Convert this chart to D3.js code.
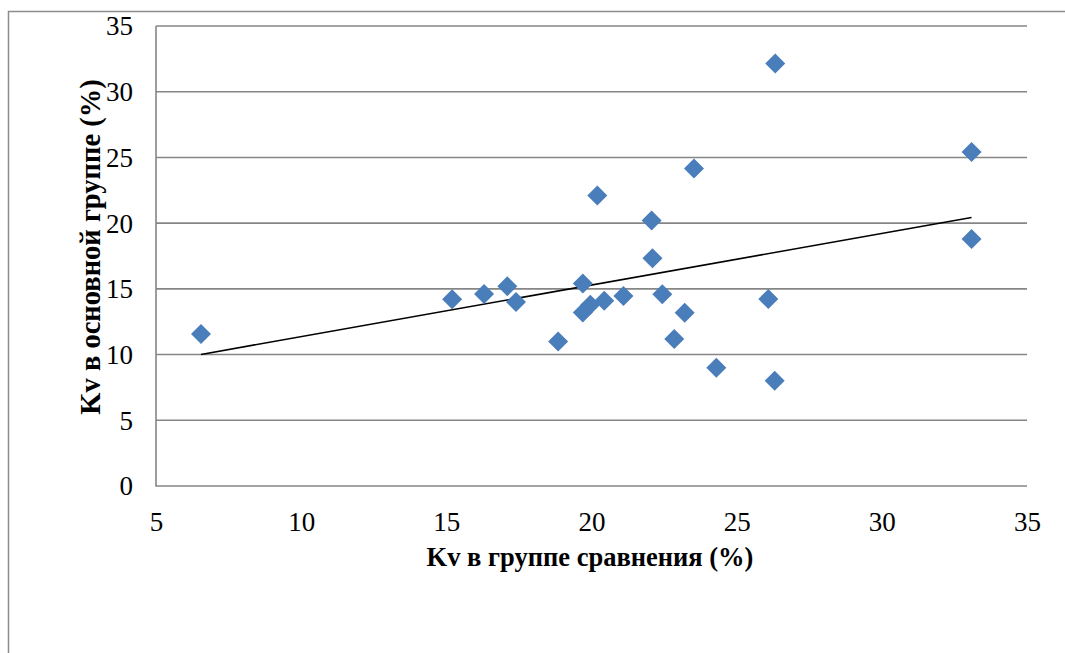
<!DOCTYPE html>
<html>
<head>
<meta charset="utf-8">
<script src="https://cdn.jsdelivr.net/npm/d3@7"></script>
<style>
  html, body { margin: 0; padding: 0; background: #fff; }
  svg { display: block; }
</style>
</head>
<body>
<svg id="chart" width="1065" height="653"></svg>
<script>
// Coefficient of variation: comparison group (x) vs main group (y), %
const kvComparison = [6.55, 15.2, 16.3, 17.1, 17.4, 18.85, 19.7, 19.7, 19.96, 20.44, 20.2, 21.1,
  22.07, 22.1, 22.44, 22.85, 23.21, 23.53, 24.3, 26.33, 26.09, 26.31, 33.09, 33.09];
const kvMain = [11.57, 14.2, 14.6, 15.2, 14.0, 11.0, 15.4, 13.2, 13.8, 14.1, 22.1, 14.46,
  20.2, 17.33, 14.59, 11.19, 13.19, 24.15, 9.0, 32.14, 14.23, 8.01, 25.42, 18.8];
const xTicks = [5, 10, 15, 20, 25, 30, 35];
const yTicks = [0, 5, 10, 15, 20, 25, 30, 35];
const xTitle = "Kv в группе сравнения (%)";
const yTitle = "Kv в основной группе (%)";

const svg = d3.select("#chart");
const font = "'Liberation Serif', 'Times New Roman', serif";

const plot = { left: 156, right: 1027, top: 26, bottom: 486 };
const x = d3.scaleLinear().domain([5, 35]).range([plot.left, plot.right]);
const y = d3.scaleLinear().domain([0, 35]).range([plot.bottom, plot.top]);

// chart frame (top and left edges)
svg.append("path")
  .attr("d", "M8.5,653 V11.5 H1065")
  .attr("fill", "none").attr("stroke", "#8c8c8c").attr("stroke-width", 1.5);

// horizontal gridlines
svg.append("g").selectAll("line").data(yTicks.filter(d => d > 0)).join("line")
  .attr("x1", plot.left).attr("x2", plot.right)
  .attr("y1", d => y(d)).attr("y2", d => y(d))
  .attr("stroke", "#868686").attr("stroke-width", 1.6);

// axis lines
svg.append("path")
  .attr("d", `M${plot.left},${plot.top} V${plot.bottom} H${plot.right}`)
  .attr("fill", "none").attr("stroke", "#868686").attr("stroke-width", 1.6);

// tick labels
const xAxis = d3.axisBottom(x).tickValues(xTicks).tickSize(0).tickPadding(0);
const gx = svg.append("g").attr("transform", `translate(0,${plot.bottom})`).call(xAxis);
gx.select(".domain").remove();
gx.selectAll("text").attr("dy", null).attr("y", 45)
  .attr("font-family", font).attr("font-size", 27).attr("fill", "#000");

const yAxis = d3.axisLeft(y).tickValues(yTicks).tickSize(0).tickPadding(0);
const gy = svg.append("g").attr("transform", `translate(${plot.left},0)`).call(yAxis);
gy.select(".domain").remove();
gy.selectAll("text").attr("x", -23).attr("dy", "0.33em")
  .attr("font-family", font).attr("font-size", 27).attr("fill", "#000");

// linear trend (least squares)
const n = kvComparison.length;
const mx = d3.mean(kvComparison), my = d3.mean(kvMain);
let sxy = 0, sxx = 0;
for (let i = 0; i < n; i++) {
  sxy += (kvComparison[i] - mx) * (kvMain[i] - my);
  sxx += (kvComparison[i] - mx) ** 2;
}
const slope = sxy / sxx, intercept = my - slope * mx;
const [xmin, xmax] = d3.extent(kvComparison);
svg.append("line")
  .attr("x1", x(xmin)).attr("y1", y(intercept + slope * xmin))
  .attr("x2", x(xmax)).attr("y2", y(intercept + slope * xmax))
  .attr("stroke", "#000").attr("stroke-width", 1.6);

// points
const diamond = d3.symbol().type(d3.symbolSquare).size(200);
svg.append("g").selectAll("path").data(kvComparison.map((v, i) => [v, kvMain[i]])).join("path")
  .attr("d", diamond)
  .attr("transform", d => `translate(${x(d[0])},${y(d[1])}) rotate(45)`)
  .attr("fill", "#4a7ebb");

// axis titles
svg.append("text")
  .attr("x", 590).attr("y", 566).attr("text-anchor", "middle")
  .attr("font-family", font).attr("font-size", 26.5).attr("font-weight", "bold")
  .text(xTitle);

svg.append("text")
  .attr("transform", "translate(100,247) rotate(-90)").attr("text-anchor", "middle")
  .attr("font-family", font).attr("font-size", 28.5).attr("font-weight", "bold")
  .text(yTitle);
</script>
</body>
</html>
